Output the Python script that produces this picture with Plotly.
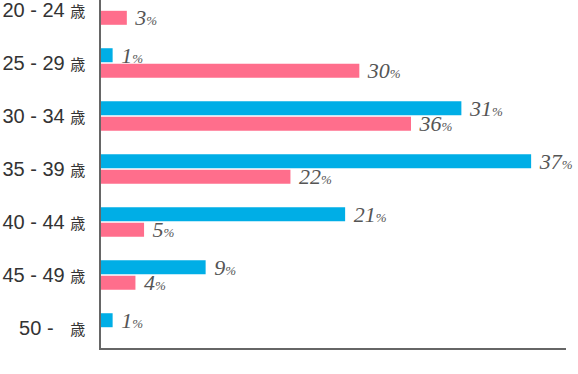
import plotly.graph_objects as go

categories = ["20 - 24", "25 - 29", "30 - 34", "35 - 39", "40 - 44", "45 - 49", "50 -"]
tick_labels = ["20 - 24\u00a0", "25 - 29\u00a0", "30 - 34\u00a0", "35 - 39\u00a0", "40 - 44\u00a0", "45 - 49\u00a0", "50 -\u00a0\u00a0\u00a0"]
blue_values = [None, 1, 31, 37, 21, 9, 1]
pink_values = [3, 30, 36, 22, 5, 4, None]

BLUE = "#00AEE6"
PINK = "#FF6E8C"
PCT = "<span style='font-size:13px'>%</span>"


def labels(vals):
    return ["" if v is None else "\u00a0%d%s" % (v, PCT) for v in vals]


VALUE_FONT = dict(family="Liberation Serif", size=22, color="#555555", style="italic")

fig = go.Figure()
fig.add_trace(go.Bar(
    y=categories, x=blue_values, orientation="h",
    marker=dict(color=BLUE, line=dict(width=0)),
    width=0.264, offset=-0.279,
    text=labels(blue_values), textposition="outside", constraintext="none",
    textfont=VALUE_FONT,
    cliponaxis=False, xaxis="x", yaxis="y", showlegend=False, hoverinfo="skip",
))
fig.add_trace(go.Bar(
    y=categories, x=pink_values, orientation="h",
    marker=dict(color=PINK, line=dict(width=0)),
    width=0.264, offset=0.015,
    text=labels(pink_values), textposition="outside", constraintext="none",
    textfont=VALUE_FONT,
    cliponaxis=False, xaxis="x2", yaxis="y", showlegend=False, hoverinfo="skip",
))

fig.update_layout(
    width=578, height=374,
    margin=dict(l=101, r=12, t=0, b=26),
    paper_bgcolor="white", plot_bgcolor="white",
    barmode="overlay",
    xaxis=dict(range=[0, 40], showgrid=False, zeroline=False, showticklabels=False,
               showline=True, linecolor="#666666", linewidth=1.5, ticks="", automargin=False),
    xaxis2=dict(range=[0, 54], overlaying="x", side="bottom", visible=False),
    yaxis=dict(type="category", categoryorder="array", categoryarray=categories,
               range=[6.377, -0.189], showgrid=False, zeroline=False, automargin=False,
               showline=True, linecolor="#666666", linewidth=1.5, ticks="",
               tickmode="array", tickvals=categories,
               ticktext=[t + "<span style='font-size:15px'>歳</span>" for t in tick_labels],
               tickfont=dict(family="Liberation Sans, Noto Sans CJK JP", size=20, color="#333333"),
               ticklabelstandoff=10),
)

fig.write_html("out.html", config={"displayModeBar": False},
               post_script="document.body.style.margin='0';")
